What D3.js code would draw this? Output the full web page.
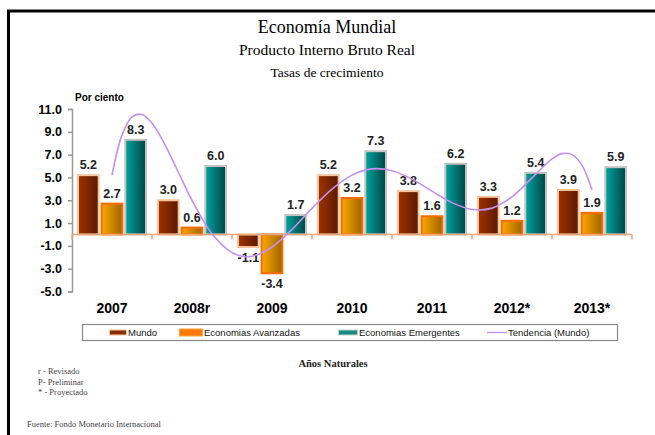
<!DOCTYPE html>
<html><head><meta charset="utf-8">
<script src="https://cdn.jsdelivr.net/npm/d3@7"></script>
<style>body{margin:0;background:#fff}svg{display:block}</style>
</head><body>
<script>
const categories = ["2007","2008r","2009","2010","2011","2012*","2013*"];
const mundo = [5.2, 3.0, -1.1, 5.2, 3.8, 3.3, 3.9];
const avanzadas = [2.7, 0.6, -3.4, 3.2, 1.6, 1.2, 1.9];
const emergentes = [8.3, 6.0, 1.7, 7.3, 6.2, 5.4, 5.9];
const seriesNames = ["Mundo","Economias Avanzadas","Economias Emergentes"];
const trendName = "Tendencia (Mundo)";
// trend curve: [category position, value]
const tendencia = [[0,5.2],[0.125,8.71],[0.25,10.31],[0.375,10.52],[0.5,9.75],[0.625,8.35],[0.75,6.62],[0.875,4.78],[1,3.0],[1.25,0.07],[1.5,-1.59],[1.625,-1.91],[1.75,-1.91],[2,-1.1],[2.25,0.45],[2.5,2.29],[2.75,3.98],[3,5.2],[3.25,5.75],[3.5,5.59],[3.75,4.85],[4,3.8],[4.25,2.79],[4.5,2.19],[4.75,2.31],[5,3.3],[5.25,4.96],[5.5,6.63],[5.625,7.09],[5.75,7.0],[5.875,6.06],[6,3.9]];
const yTicks = [-5,-3,-1,1,3,5,7,9,11];
const notes = ["r - Revisado","P- Preliminar","* - Proyectado"];

const W=655,H=435;
const fmt=v=>d3.format(".1f")(v).replace("\u2212","-");
const svg=d3.select("body").append("svg").attr("width",W).attr("height",H);
const defs=svg.append("defs");
const grads=[["gM","#a03400","#5a1800"],["gA","#ffa800","#9c6600"],["gE","#00a5a0","#004444"]];
grads.forEach(([id,a,b])=>{const g=defs.append("linearGradient").attr("id",id).attr("x1","0").attr("x2","1").attr("y1","0").attr("y2","0");
 g.append("stop").attr("offset","0").attr("stop-color",a);g.append("stop").attr("offset","1").attr("stop-color",b);});
const fills=["url(#gM)","url(#gA)","url(#gE)"];
const strokes=["#f8c39a","#ff6a00","#c4c4c4"];
const swatch=["#8a2c00","#ff7a00","#1a8a86"];

// frame
svg.append("path").attr("d",`M8.5,${H} V11 H${W}`).attr("fill","none").attr("stroke","#000").attr("stroke-width",3);

const serif="'Liberation Serif','DejaVu Serif',serif";
const sans="'Liberation Sans',Arial,sans-serif";
svg.append("text").attr("x",327).attr("y",33).attr("text-anchor","middle").attr("font-family",serif).attr("font-size",18).text("Economía Mundial");
svg.append("text").attr("x",327).attr("y",55).attr("text-anchor","middle").attr("font-family",serif).attr("font-size",15.5).text("Producto Interno Bruto Real");
svg.append("text").attr("x",327).attr("y",77).attr("text-anchor","middle").attr("font-family",serif).attr("font-size",13.5).text("Tasas de crecimiento");
svg.append("text").attr("x",75).attr("y",101).attr("font-family",sans).attr("font-weight","bold").attr("font-size",10).text("Por ciento");

const y=d3.scaleLinear().domain([-5,11]).range([291.5,109]);
const x0=d3.scaleBand().domain(categories).range([72,632]).paddingInner(0.125).paddingOuter(0.0625);
const x1=d3.scaleBand().domain([0,1,2]).range([0,x0.bandwidth()]).paddingInner(0.04);

// y axis
const ya=svg.append("g").attr("transform","translate(72,0)").call(d3.axisLeft(y).tickValues(yTicks).tickFormat(fmt).tickSize(4).tickPadding(6));
ya.select(".domain").attr("stroke","#999").attr("stroke-width",1.5);
ya.selectAll(".tick line").attr("stroke","#999").attr("stroke-width",1.5);
ya.selectAll(".tick text").attr("font-family",sans).attr("font-weight","bold").attr("font-size",12.5).attr("fill","#000");

const data=categories.map((c,i)=>({c,vals:[mundo[i],avanzadas[i],emergentes[i]]}));
const grp=svg.append("g").selectAll("g").data(data).join("g").attr("transform",d=>`translate(${x0(d.c)},0)`);
grp.selectAll("rect").data(d=>d.vals.map((v,k)=>({v,k}))).join("rect")
 .attr("x",d=>x1(d.k)+1).attr("width",x1.bandwidth()-2)
 .attr("y",d=>y(Math.max(0,d.v))).attr("height",d=>Math.abs(y(d.v)-y(0)))
 .attr("fill",d=>fills[d.k]).attr("stroke",d=>strokes[d.k]).attr("stroke-width",2);

// x axis at zero
const step=x0.step();
const xa=svg.append("g");
xa.append("line").attr("x1",72).attr("x2",632).attr("y1",y(0)).attr("y2",y(0)).attr("stroke","#e8a878").attr("stroke-width",1.5);
xa.selectAll("line.t").data(d3.range(categories.length+1)).join("line").attr("class","t")
 .attr("x1",i=>72+i*step).attr("x2",i=>72+i*step).attr("y1",y(0)).attr("y2",y(0)+5).attr("stroke","#e8a878").attr("stroke-width",1.5);

// value labels
grp.selectAll("text.v").data(d=>d.vals.map((v,k)=>({v,k}))).join("text").attr("class","v")
 .attr("x",d=>x1(d.k)+x1.bandwidth()/2).attr("y",d=>d.v>=0?y(d.v)-6:y(d.v)+15)
 .attr("text-anchor","middle").attr("font-family",sans).attr("font-weight","bold").attr("font-size",12.5).attr("fill","#222")
 .text(d=>fmt(d.v));

// category labels
svg.append("g").selectAll("text").data(categories).join("text")
 .attr("x",d=>x0(d)+x0.bandwidth()/2).attr("y",313).attr("text-anchor","middle")
 .attr("font-family",sans).attr("font-weight","bold").attr("font-size",14).text(d=>d);

// trend
const xi=d3.scaleLinear().domain([0,categories.length-1]).range([x0(categories[0])+x0.bandwidth()/2,x0(categories[categories.length-1])+x0.bandwidth()/2]);
svg.append("path").datum(tendencia).attr("fill","none").attr("stroke","#c490f0").attr("stroke-width",1.6)
 .attr("d",d3.line().x(d=>xi(d[0])).y(d=>y(d[1])).curve(d3.curveCatmullRom));

// legend
svg.append("rect").attr("x",82.5).attr("y",324.5).attr("width",535).attr("height",16).attr("fill","#fff").attr("stroke","#888").attr("stroke-width",1.2);
const leg=[{n:seriesNames[0],sx:109,sw:18,c:swatch[0],h:4,b:strokes[0]},{n:seriesNames[1],sx:179,sw:24,c:swatch[1],h:6,b:"#ffa040"},{n:seriesNames[2],sx:338,sw:20,c:swatch[2],h:4,b:"#bfcfcf"},{n:trendName,sx:487,sw:20,c:"#c490f0",h:1.3,b:null}];
leg.forEach(l=>{
 if(l.b) svg.append("rect").attr("x",l.sx).attr("y",332.5-l.h/2-1).attr("width",l.sw).attr("height",l.h+2).attr("fill",l.b);
 svg.append("rect").attr("x",l.sx+(l.b?1:0)).attr("y",332.5-l.h/2).attr("width",l.sw-(l.b?2:0)).attr("height",l.h).attr("fill",l.c);
 svg.append("text").attr("x",l.sx+l.sw+1).attr("y",336).attr("font-family",sans).attr("font-size",9.5).attr("fill","#111").text(l.n);
});

svg.append("text").attr("x",333).attr("y",367).attr("text-anchor","middle").attr("font-family",serif).attr("font-weight","bold").attr("font-size",10.5).attr("fill","#222").text("Años Naturales");
svg.append("g").selectAll("text").data(notes).join("text").attr("x",38).attr("y",(d,i)=>374+i*10.5)
 .attr("font-family",serif).attr("font-size",8.5).attr("fill","#444").text(d=>d);
svg.append("text").attr("x",27).attr("y",427).attr("font-family",serif).attr("font-size",8.5).attr("fill","#444").text("Fuente: Fondo Monetario Internacional");
</script>
</body></html>
